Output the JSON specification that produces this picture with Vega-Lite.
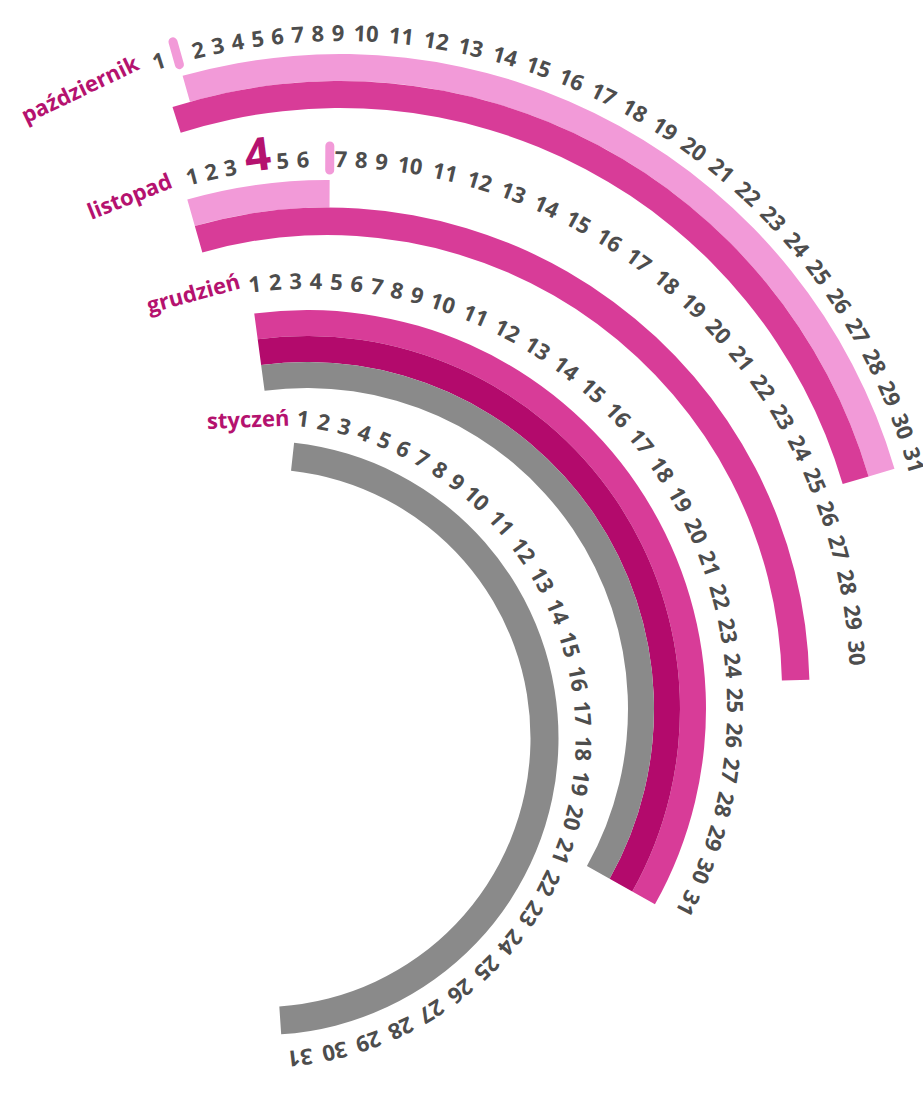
{
  "$schema": "https://vega.github.io/schema/vega-lite/v6.json",
  "width": 923,
  "height": 1096,
  "padding": 0,
  "autosize": {"type": "none"},
  "background": "white",
  "view": {"stroke": null},
  "datasets": {
    "bands": [
      {"month": "październik", "band": "p1", "from": 1.5, "to": 31.5, "lo": 1, "hi": 2},
      {"month": "październik", "band": "p2", "from": 0.5, "to": 31.5, "lo": 0, "hi": 1},
      {"month": "listopad", "band": "p1", "from": 0.5, "to": 6.5, "lo": 1, "hi": 2},
      {"month": "listopad", "band": "p2", "from": 0.5, "to": 30.5, "lo": 0, "hi": 1},
      {"month": "grudzień", "band": "p2", "from": 0.5, "to": 31.5, "lo": 2, "hi": 3},
      {"month": "grudzień", "band": "p3", "from": 0.5, "to": 31.5, "lo": 1, "hi": 2},
      {"month": "grudzień", "band": "p4", "from": 0.5, "to": 31.5, "lo": 0, "hi": 1},
      {"month": "styczeń", "band": "p4", "from": 0.5, "to": 31.5, "lo": 0, "hi": 1}
    ],
    "markers": [
      {"month": "październik", "at": 1.5},
      {"month": "listopad", "at": 6.5}
    ],
    "months": [
      {"month": "październik"}, {"month": "listopad"}, {"month": "grudzień"}, {"month": "styczeń"}
    ],
    "days": [
      {"month":"październik","day":1},{"month":"październik","day":2},{"month":"październik","day":3},{"month":"październik","day":4},{"month":"październik","day":5},{"month":"październik","day":6},{"month":"październik","day":7},{"month":"październik","day":8},{"month":"październik","day":9},{"month":"październik","day":10},{"month":"październik","day":11},{"month":"październik","day":12},{"month":"październik","day":13},{"month":"październik","day":14},{"month":"październik","day":15},{"month":"październik","day":16},{"month":"październik","day":17},{"month":"październik","day":18},{"month":"październik","day":19},{"month":"październik","day":20},{"month":"październik","day":21},{"month":"październik","day":22},{"month":"październik","day":23},{"month":"październik","day":24},{"month":"październik","day":25},{"month":"październik","day":26},{"month":"październik","day":27},{"month":"październik","day":28},{"month":"październik","day":29},{"month":"październik","day":30},{"month":"październik","day":31},
      {"month":"listopad","day":1},{"month":"listopad","day":2},{"month":"listopad","day":3},{"month":"listopad","day":4,"big":true},{"month":"listopad","day":5},{"month":"listopad","day":6},{"month":"listopad","day":7},{"month":"listopad","day":8},{"month":"listopad","day":9},{"month":"listopad","day":10},{"month":"listopad","day":11},{"month":"listopad","day":12},{"month":"listopad","day":13},{"month":"listopad","day":14},{"month":"listopad","day":15},{"month":"listopad","day":16},{"month":"listopad","day":17},{"month":"listopad","day":18},{"month":"listopad","day":19},{"month":"listopad","day":20},{"month":"listopad","day":21},{"month":"listopad","day":22},{"month":"listopad","day":23},{"month":"listopad","day":24},{"month":"listopad","day":25},{"month":"listopad","day":26},{"month":"listopad","day":27},{"month":"listopad","day":28},{"month":"listopad","day":29},{"month":"listopad","day":30},
      {"month":"grudzień","day":1},{"month":"grudzień","day":2},{"month":"grudzień","day":3},{"month":"grudzień","day":4},{"month":"grudzień","day":5},{"month":"grudzień","day":6},{"month":"grudzień","day":7},{"month":"grudzień","day":8},{"month":"grudzień","day":9},{"month":"grudzień","day":10},{"month":"grudzień","day":11},{"month":"grudzień","day":12},{"month":"grudzień","day":13},{"month":"grudzień","day":14},{"month":"grudzień","day":15},{"month":"grudzień","day":16},{"month":"grudzień","day":17},{"month":"grudzień","day":18},{"month":"grudzień","day":19},{"month":"grudzień","day":20},{"month":"grudzień","day":21},{"month":"grudzień","day":22},{"month":"grudzień","day":23},{"month":"grudzień","day":24},{"month":"grudzień","day":25},{"month":"grudzień","day":26},{"month":"grudzień","day":27},{"month":"grudzień","day":28},{"month":"grudzień","day":29},{"month":"grudzień","day":30},{"month":"grudzień","day":31},
      {"month":"styczeń","day":1},{"month":"styczeń","day":2},{"month":"styczeń","day":3},{"month":"styczeń","day":4},{"month":"styczeń","day":5},{"month":"styczeń","day":6},{"month":"styczeń","day":7},{"month":"styczeń","day":8},{"month":"styczeń","day":9},{"month":"styczeń","day":10},{"month":"styczeń","day":11},{"month":"styczeń","day":12},{"month":"styczeń","day":13},{"month":"styczeń","day":14},{"month":"styczeń","day":15},{"month":"styczeń","day":16},{"month":"styczeń","day":17},{"month":"styczeń","day":18},{"month":"styczeń","day":19},{"month":"styczeń","day":20},{"month":"styczeń","day":21},{"month":"styczeń","day":22},{"month":"styczeń","day":23},{"month":"styczeń","day":24},{"month":"styczeń","day":25},{"month":"styczeń","day":26},{"month":"styczeń","day":27},{"month":"styczeń","day":28},{"month":"styczeń","day":29},{"month":"styczeń","day":30},{"month":"styczeń","day":31}
    ]
  },
  "layer": [
    {
      "layer": [
        {
          "data": {"name": "bands"},
          "transform": [{"filter": {"field": "month", "equal": "październik"}}],
          "mark": {"type": "arc"},
          "encoding": {
            "x": {"datum": 1, "type": "quantitative", "scale": {"type": "linear", "domain": [1, 2, 3, 4], "range": [340, 327, 307, 261.5], "zero": false, "nice": false}, "axis": null},
            "y": {"datum": 1, "type": "quantitative", "scale": {"type": "linear", "domain": [1, 2, 3, 4], "range": [632, 690, 709, 738], "zero": false, "nice": false}, "axis": null},
            "theta": {"field": "from", "type": "quantitative", "scale": {"type": "linear", "domain": [0, 0.5, 1, 1.5, 2, 9, 10, 31, 31.5], "range": [-0.4468, -0.3089, -0.3072, -0.2758, -0.2391, -0.0035, 0.0436, 1.2793, 1.2846], "zero": false, "nice": false}},
            "theta2": {"field": "to"},
            "radius": {"field": "hi", "type": "quantitative", "scale": {"type": "linear", "domain": [0, 1], "range": [524, 551], "zero": false, "nice": false}},
            "radius2": {"field": "lo"},
            "color": {"field": "band", "type": "nominal", "scale": {"domain": ["p1", "p2", "p3", "p4"], "range": ["#F29AD8", "#D83C98", "#B30A6C", "#8A8A8A"]}, "legend": null}
          }
        },
        {
          "data": {"name": "markers"},
          "transform": [{"filter": {"field": "month", "equal": "październik"}}],
          "mark": {"type": "arc", "fill": "#F29AD8", "stroke": "#F29AD8", "strokeWidth": 9, "strokeJoin": "round", "strokeCap": "round"},
          "encoding": {
            "x": {"datum": 1, "type": "quantitative"},
            "y": {"datum": 1, "type": "quantitative"},
            "theta": {"field": "at", "type": "quantitative"},
            "theta2": {"field": "at"},
            "radius": {"datum": 3.31, "type": "quantitative"},
            "radius2": {"datum": 2.43}
          }
        },
        {
          "data": {"name": "days"},
          "transform": [{"filter": {"field": "month", "equal": "październik"}}],
          "mark": {"type": "text", "font": "Open Sans", "fontSize": 22, "fontWeight": "bold", "color": "#4D4D4D", "align": "center", "baseline": "middle"},
          "encoding": {
            "x": {"datum": 1, "type": "quantitative"},
            "y": {"datum": 1, "type": "quantitative"},
            "theta": {"field": "day", "type": "quantitative"},
            "radius": {"datum": 2.74, "type": "quantitative"},
            "angle": {"field": "day", "type": "quantitative", "scale": {"type": "linear", "domain": [0, 0.5, 1, 1.5, 2, 9, 10, 31, 31.5], "range": [-25.6, -17.7, -17.6, -15.8, -13.7, -0.2, 2.5, 73.3, 73.6], "zero": false, "nice": false}},
            "text": {"field": "day", "type": "nominal"}
          }
        },
        {
          "data": {"name": "months"},
          "transform": [{"filter": {"field": "month", "equal": "październik"}}],
          "mark": {"type": "text", "font": "Open Sans", "fontSize": 22, "fontWeight": "bold", "color": "#B5126F", "align": "center", "baseline": "middle"},
          "encoding": {
            "x": {"datum": 1, "type": "quantitative"},
            "y": {"datum": 1, "type": "quantitative"},
            "theta": {"datum": 0, "type": "quantitative"},
            "radius": {"datum": 2.85, "type": "quantitative"},
            "angle": {"datum": 0, "type": "quantitative"},
            "text": {"field": "month", "type": "nominal"}
          }
        }
      ]
    },
    {
      "layer": [
        {
          "data": {"name": "bands"},
          "transform": [{"filter": {"field": "month", "equal": "listopad"}}],
          "mark": {"type": "arc"},
          "encoding": {
            "x": {"datum": 2, "type": "quantitative"},
            "y": {"datum": 2, "type": "quantitative"},
            "theta": {"field": "from", "type": "quantitative", "scale": {"type": "linear", "domain": [0, 0.5, 1, 3, 4, 5, 6, 6.5, 7, 9, 10, 30, 30.5], "range": [-0.3805, -0.2775, -0.2566, -0.1833, -0.1292, -0.0838, -0.0454, 0.0052, 0.0262, 0.1030, 0.1571, 1.5010, 1.5498], "zero": false, "nice": false}},
            "theta2": {"field": "to"},
            "radius": {"field": "hi", "type": "quantitative", "scale": {"type": "linear", "domain": [0, 1], "range": [455, 482.5], "zero": false, "nice": false}},
            "radius2": {"field": "lo"},
            "color": {"field": "band", "type": "nominal", "legend": null}
          }
        },
        {
          "data": {"name": "markers"},
          "transform": [{"filter": {"field": "month", "equal": "listopad"}}],
          "mark": {"type": "arc", "fill": "#F29AD8", "stroke": "#F29AD8", "strokeWidth": 9, "strokeJoin": "round", "strokeCap": "round"},
          "encoding": {
            "x": {"datum": 2, "type": "quantitative"},
            "y": {"datum": 2, "type": "quantitative"},
            "theta": {"field": "at", "type": "quantitative"},
            "theta2": {"field": "at"},
            "radius": {"datum": 3.24, "type": "quantitative"},
            "radius2": {"datum": 2.36}
          }
        },
        {
          "data": {"name": "days"},
          "transform": [{"filter": {"field": "month", "equal": "listopad"}}, {"filter": "!datum.big"}],
          "mark": {"type": "text", "font": "Open Sans", "fontSize": 22, "fontWeight": "bold", "color": "#4D4D4D", "align": "center", "baseline": "middle"},
          "encoding": {
            "x": {"datum": 2, "type": "quantitative"},
            "y": {"datum": 2, "type": "quantitative"},
            "theta": {"field": "day", "type": "quantitative"},
            "radius": {"datum": 2.73, "type": "quantitative"},
            "angle": {"field": "day", "type": "quantitative", "scale": {"type": "linear", "domain": [0, 0.5, 1, 3, 4, 5, 6, 6.5, 7, 9, 10, 30, 30.5], "range": [-21.8, -15.9, -14.7, -10.5, -7.4, -4.8, -2.6, 0.3, 1.5, 5.9, 9.0, 86.0, 88.8], "zero": false, "nice": false}},
            "text": {"field": "day", "type": "nominal"}
          }
        },
        {
          "data": {"name": "days"},
          "transform": [{"filter": {"field": "month", "equal": "listopad"}}, {"filter": "datum.big"}],
          "mark": {"type": "text", "font": "Open Sans", "fontSize": 46, "fontWeight": "bold", "color": "#B5126F", "align": "center", "baseline": "alphabetic"},
          "encoding": {
            "x": {"datum": 2, "type": "quantitative"},
            "y": {"datum": 2, "type": "quantitative"},
            "theta": {"field": "day", "type": "quantitative"},
            "radius": {"datum": 2.5, "type": "quantitative"},
            "angle": {"field": "day", "type": "quantitative"},
            "text": {"field": "day", "type": "nominal"}
          }
        },
        {
          "data": {"name": "months"},
          "transform": [{"filter": {"field": "month", "equal": "listopad"}}],
          "mark": {"type": "text", "font": "Open Sans", "fontSize": 22, "fontWeight": "bold", "color": "#B5126F", "align": "center", "baseline": "middle"},
          "encoding": {
            "x": {"datum": 2, "type": "quantitative"},
            "y": {"datum": 2, "type": "quantitative"},
            "theta": {"datum": 0, "type": "quantitative"},
            "radius": {"datum": 2.76, "type": "quantitative"},
            "angle": {"datum": 0, "type": "quantitative"},
            "text": {"field": "month", "type": "nominal"}
          }
        }
      ]
    },
    {
      "layer": [
        {
          "data": {"name": "bands"},
          "transform": [{"filter": {"field": "month", "equal": "grudzień"}}],
          "mark": {"type": "arc"},
          "encoding": {
            "x": {"datum": 3, "type": "quantitative"},
            "y": {"datum": 3, "type": "quantitative"},
            "theta": {"field": "from", "type": "quantitative", "scale": {"type": "linear", "domain": [0, 0.5, 1, 9, 10, 31, 31.5], "range": [-0.2670, -0.1326, -0.1222, 0.2601, 0.3229, 2.0420, 2.0822], "zero": false, "nice": false}},
            "theta2": {"field": "to"},
            "radius": {"field": "hi", "type": "quantitative", "scale": {"type": "linear", "domain": [0, 1], "range": [321, 347], "zero": false, "nice": false}},
            "radius2": {"field": "lo"},
            "color": {"field": "band", "type": "nominal", "legend": null}
          }
        },
        {
          "data": {"name": "days"},
          "transform": [{"filter": {"field": "month", "equal": "grudzień"}}],
          "mark": {"type": "text", "font": "Open Sans", "fontSize": 22, "fontWeight": "bold", "color": "#4D4D4D", "align": "center", "baseline": "middle"},
          "encoding": {
            "x": {"datum": 3, "type": "quantitative"},
            "y": {"datum": 3, "type": "quantitative"},
            "theta": {"field": "day", "type": "quantitative"},
            "radius": {"datum": 4.08, "type": "quantitative"},
            "angle": {"field": "day", "type": "quantitative", "scale": {"type": "linear", "domain": [0, 0.5, 1, 9, 10, 31, 31.5], "range": [-15.3, -7.6, -7.0, 14.9, 18.5, 117.0, 119.3], "zero": false, "nice": false}},
            "text": {"field": "day", "type": "nominal"}
          }
        },
        {
          "data": {"name": "months"},
          "transform": [{"filter": {"field": "month", "equal": "grudzień"}}],
          "mark": {"type": "text", "font": "Open Sans", "fontSize": 22, "fontWeight": "bold", "color": "#B5126F", "align": "center", "baseline": "middle"},
          "encoding": {
            "x": {"datum": 3, "type": "quantitative"},
            "y": {"datum": 3, "type": "quantitative"},
            "theta": {"datum": 0, "type": "quantitative"},
            "radius": {"datum": 4.2, "type": "quantitative"},
            "angle": {"datum": 0, "type": "quantitative"},
            "text": {"field": "month", "type": "nominal"}
          }
        }
      ]
    },
    {
      "layer": [
        {
          "data": {"name": "bands"},
          "transform": [{"filter": {"field": "month", "equal": "styczeń"}}],
          "mark": {"type": "arc"},
          "encoding": {
            "x": {"datum": 4, "type": "quantitative"},
            "y": {"datum": 4, "type": "quantitative"},
            "theta": {"field": "from", "type": "quantitative", "scale": {"type": "linear", "domain": [0, 0.5, 1, 9, 10, 31, 31.5], "range": [-0.0419, 0.1100, 0.1292, 0.6528, 0.7313, 3.0212, 3.0753], "zero": false, "nice": false}},
            "theta2": {"field": "to"},
            "radius": {"field": "hi", "type": "quantitative", "scale": {"type": "linear", "domain": [0, 1], "range": [269, 297], "zero": false, "nice": false}},
            "radius2": {"field": "lo"},
            "color": {"field": "band", "type": "nominal", "legend": null}
          }
        },
        {
          "data": {"name": "days"},
          "transform": [{"filter": {"field": "month", "equal": "styczeń"}}],
          "mark": {"type": "text", "font": "Open Sans", "fontSize": 22, "fontWeight": "bold", "color": "#4D4D4D", "align": "center", "baseline": "middle"},
          "encoding": {
            "x": {"datum": 4, "type": "quantitative"},
            "y": {"datum": 4, "type": "quantitative"},
            "theta": {"field": "day", "type": "quantitative"},
            "radius": {"datum": 1.86, "type": "quantitative"},
            "angle": {"field": "day", "type": "quantitative", "scale": {"type": "linear", "domain": [0, 0.5, 1, 9, 10, 31, 31.5], "range": [-2.4, 6.3, 7.4, 37.4, 41.9, 173.1, 176.2], "zero": false, "nice": false}},
            "text": {"field": "day", "type": "nominal"}
          }
        },
        {
          "data": {"name": "months"},
          "transform": [{"filter": {"field": "month", "equal": "styczeń"}}],
          "mark": {"type": "text", "font": "Open Sans", "fontSize": 22, "fontWeight": "bold", "color": "#B5126F", "align": "center", "baseline": "middle"},
          "encoding": {
            "x": {"datum": 4, "type": "quantitative"},
            "y": {"datum": 4, "type": "quantitative"},
            "theta": {"datum": 0, "type": "quantitative"},
            "radius": {"datum": 1.75, "type": "quantitative"},
            "angle": {"datum": 0, "type": "quantitative"},
            "text": {"field": "month", "type": "nominal"}
          }
        }
      ]
    }
  ],
  "resolve": {"scale": {"theta": "independent", "radius": "independent", "angle": "independent"}}
}
